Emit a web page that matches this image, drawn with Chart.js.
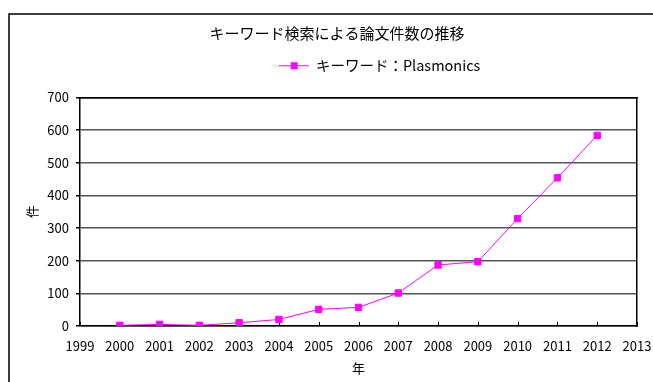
<!DOCTYPE html>
<html>
<head>
<meta charset="utf-8">
<script src="https://cdn.jsdelivr.net/npm/chart.js@4"></script>
<style>
html, body { margin: 0; padding: 0; background: #fff; }
#wrap { position: relative; width: 653px; height: 382px; }
</style>
</head>
<body>
<div id="wrap"><canvas id="c" width="653" height="382"></canvas></div>
<script>
// data
const years  = [2000, 2001, 2002, 2003, 2004, 2005, 2006, 2007, 2008, 2009, 2010, 2011, 2012];
const counts = [2, 5, 2, 10, 20, 51, 57, 101, 187, 197, 329, 454, 584];
const xRange = [1999, 2013];
const yRange = [0, 700];
const yStep  = 100;

const TITLE  = 'キーワード検索による論文件数の推移';
const SERIES = 'キーワード：Plasmonics';
const FONT   = "'Noto Sans CJK JP', 'Noto Sans', sans-serif";
const PINK   = '#FF00FF';

Chart.defaults.font.family = FONT;
Chart.defaults.color = '#000';

// legend symbol: line with square marker (blank space on the left shifts it right)
const legendShift = 21;
const sym = document.createElement('canvas');
sym.width = 30 + legendShift * 2; sym.height = 10;
{
  const g = sym.getContext('2d');
  const x0 = legendShift * 2;
  g.strokeStyle = PINK; g.lineWidth = 1;
  g.beginPath(); g.moveTo(x0, 5.5); g.lineTo(x0 + 30, 5.5); g.stroke();
  g.fillStyle = PINK;
  g.fillRect(x0 + 12, 2, 7, 7);
}

const framePlugin = {
  id: 'frame',
  beforeDraw(chart) {
    const ctx = chart.ctx;
    ctx.save();
    ctx.strokeStyle = '#000'; ctx.lineWidth = 1.5;
    ctx.beginPath();
    ctx.moveTo(9, chart.height + 10); ctx.lineTo(9, 14); ctx.lineTo(chart.width + 10, 14);
    ctx.stroke();
    ctx.restore();
  }
};

const innerTicks = {
  id: 'innerTicks',
  beforeDatasetsDraw(chart) {
    const ctx = chart.ctx, xs = chart.scales.x, b = chart.chartArea.bottom;
    ctx.save();
    ctx.strokeStyle = '#000'; ctx.lineWidth = 1;
    xs.ticks.forEach(t => {
      const px = Math.round(xs.getPixelForValue(t.value)) + 0.5;
      ctx.beginPath(); ctx.moveTo(px, b - 4); ctx.lineTo(px, b); ctx.stroke();
    });
    ctx.restore();
  }
};

new Chart(document.getElementById('c'), {
  type: 'line',
  data: {
    datasets: [{
      label: SERIES,
      data: years.map((y, i) => ({ x: y, y: counts[i] })),
      borderColor: PINK, backgroundColor: PINK,
      borderWidth: 1,
      pointStyle: 'rect', pointRadius: 4.5, pointBorderWidth: 1,
      pointBackgroundColor: PINK, pointBorderColor: PINK,
      tension: 0
    }]
  },
  options: {
    responsive: false,
    animation: false,
    layout: { padding: { left: 21, right: 0, top: 0, bottom: 0 } },
    plugins: {
      title: {
        display: true, text: TITLE, color: '#000',
        font: { size: 15, weight: 'normal' },
        padding: { top: 24, bottom: 2 }
      },
      legend: {
        position: 'top', fullSize: false,
        labels: {
          usePointStyle: true, pointStyle: sym, pointStyleWidth: sym.width,
          padding: 14, color: '#000', font: { size: 14.5 }
        }
      },
      tooltip: { enabled: false }
    },
    scales: {
      x: {
        type: 'linear', min: xRange[0], max: xRange[1],
        afterFit: s => { s.height = 56; },
        grid: { display: false, drawTicks: true, tickLength: 11 },
        border: { display: true, color: '#000', width: 1.5 },
        ticks: { stepSize: 1, padding: 1, font: { size: 13 }, color: '#000', callback: v => String(v) },
        title: { display: true, text: '年', font: { size: 13 }, padding: { top: 0, bottom: 6 } }
      },
      x2: {
        type: 'linear', position: 'top', display: true,
        afterFit: s => { s.height = 15; },
        grid: { display: false, drawTicks: false },
        ticks: { display: false },
        border: { display: true, color: '#000', width: 1.5 }
      },
      y: {
        min: yRange[0], max: yRange[1],
        afterFit: s => { s.width = 59; },
        grid: {
          color: ctx => ctx.tick.value === yRange[1] ? '#000' : '#555',
          lineWidth: 1.5, tickLength: 4, tickColor: '#000'
        },
        border: { display: true, color: '#000', width: 1.5 },
        ticks: { stepSize: yStep, padding: 7, font: { size: 13 }, color: '#000' },
        title: { display: true, text: '件', font: { size: 13 }, padding: { top: 3, bottom: 0 } }
      },
      y2: {
        type: 'linear', position: 'right', display: true,
        afterFit: s => { s.width = 16; },
        grid: { display: false, drawTicks: false },
        ticks: { display: false },
        border: { display: true, color: '#000', width: 1.5 }
      }
    }
  },
  plugins: [framePlugin, innerTicks]
});
</script>
</body>
</html>
